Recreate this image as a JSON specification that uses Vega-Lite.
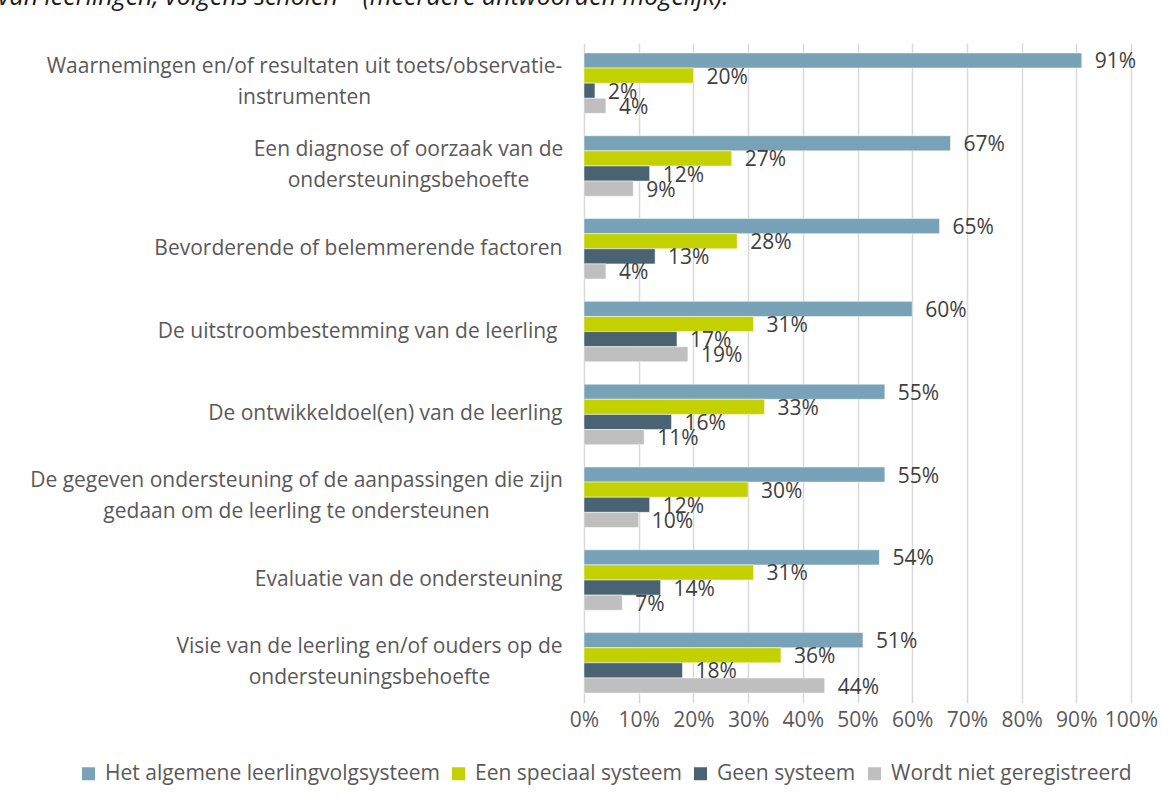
{
  "$schema": "https://vega.github.io/schema/vega-lite/v6.json",
  "width": 547,
  "height": 660,
  "autosize": {"type": "none"},
  "padding": {"left": 584, "top": 43, "right": 43, "bottom": 99},
  "background": "white",
  "title": {
    "text": "van leerlingen, volgens scholen⁽¹⁾ (meerdere antwoorden mogelijk).",
    "anchor": "start",
    "frame": "group",
    "dx": -586,
    "dy": 24,
    "offset": 37,
    "baseline": "alphabetic",
    "font": "Open Sans",
    "fontStyle": "italic",
    "fontWeight": "normal",
    "fontSize": 25,
    "color": "#1a1a1a"
  },
  "data": {
    "values": [
      {"categorie": "Waarnemingen en/of resultaten uit toets/observatie-instrumenten", "reeks": "Het algemene leerlingvolgsysteem", "waarde": 0.91},
      {"categorie": "Waarnemingen en/of resultaten uit toets/observatie-instrumenten", "reeks": "Een speciaal systeem", "waarde": 0.20},
      {"categorie": "Waarnemingen en/of resultaten uit toets/observatie-instrumenten", "reeks": "Geen systeem", "waarde": 0.02},
      {"categorie": "Waarnemingen en/of resultaten uit toets/observatie-instrumenten", "reeks": "Wordt niet geregistreerd", "waarde": 0.04},
      {"categorie": "Een diagnose of oorzaak van de ondersteuningsbehoefte", "reeks": "Het algemene leerlingvolgsysteem", "waarde": 0.67},
      {"categorie": "Een diagnose of oorzaak van de ondersteuningsbehoefte", "reeks": "Een speciaal systeem", "waarde": 0.27},
      {"categorie": "Een diagnose of oorzaak van de ondersteuningsbehoefte", "reeks": "Geen systeem", "waarde": 0.12},
      {"categorie": "Een diagnose of oorzaak van de ondersteuningsbehoefte", "reeks": "Wordt niet geregistreerd", "waarde": 0.09},
      {"categorie": "Bevorderende of belemmerende factoren", "reeks": "Het algemene leerlingvolgsysteem", "waarde": 0.65},
      {"categorie": "Bevorderende of belemmerende factoren", "reeks": "Een speciaal systeem", "waarde": 0.28},
      {"categorie": "Bevorderende of belemmerende factoren", "reeks": "Geen systeem", "waarde": 0.13},
      {"categorie": "Bevorderende of belemmerende factoren", "reeks": "Wordt niet geregistreerd", "waarde": 0.04},
      {"categorie": "De uitstroombestemming van de leerling", "reeks": "Het algemene leerlingvolgsysteem", "waarde": 0.60},
      {"categorie": "De uitstroombestemming van de leerling", "reeks": "Een speciaal systeem", "waarde": 0.31},
      {"categorie": "De uitstroombestemming van de leerling", "reeks": "Geen systeem", "waarde": 0.17},
      {"categorie": "De uitstroombestemming van de leerling", "reeks": "Wordt niet geregistreerd", "waarde": 0.19},
      {"categorie": "De ontwikkeldoel(en) van de leerling", "reeks": "Het algemene leerlingvolgsysteem", "waarde": 0.55},
      {"categorie": "De ontwikkeldoel(en) van de leerling", "reeks": "Een speciaal systeem", "waarde": 0.33},
      {"categorie": "De ontwikkeldoel(en) van de leerling", "reeks": "Geen systeem", "waarde": 0.16},
      {"categorie": "De ontwikkeldoel(en) van de leerling", "reeks": "Wordt niet geregistreerd", "waarde": 0.11},
      {"categorie": "De gegeven ondersteuning of de aanpassingen die zijn gedaan om de leerling te ondersteunen", "reeks": "Het algemene leerlingvolgsysteem", "waarde": 0.55},
      {"categorie": "De gegeven ondersteuning of de aanpassingen die zijn gedaan om de leerling te ondersteunen", "reeks": "Een speciaal systeem", "waarde": 0.30},
      {"categorie": "De gegeven ondersteuning of de aanpassingen die zijn gedaan om de leerling te ondersteunen", "reeks": "Geen systeem", "waarde": 0.12},
      {"categorie": "De gegeven ondersteuning of de aanpassingen die zijn gedaan om de leerling te ondersteunen", "reeks": "Wordt niet geregistreerd", "waarde": 0.10},
      {"categorie": "Evaluatie van de ondersteuning", "reeks": "Het algemene leerlingvolgsysteem", "waarde": 0.54},
      {"categorie": "Evaluatie van de ondersteuning", "reeks": "Een speciaal systeem", "waarde": 0.31},
      {"categorie": "Evaluatie van de ondersteuning", "reeks": "Geen systeem", "waarde": 0.14},
      {"categorie": "Evaluatie van de ondersteuning", "reeks": "Wordt niet geregistreerd", "waarde": 0.07},
      {"categorie": "Visie van de leerling en/of ouders op de ondersteuningsbehoefte", "reeks": "Het algemene leerlingvolgsysteem", "waarde": 0.51},
      {"categorie": "Visie van de leerling en/of ouders op de ondersteuningsbehoefte", "reeks": "Een speciaal systeem", "waarde": 0.36},
      {"categorie": "Visie van de leerling en/of ouders op de ondersteuningsbehoefte", "reeks": "Geen systeem", "waarde": 0.18},
      {"categorie": "Visie van de leerling en/of ouders op de ondersteuningsbehoefte", "reeks": "Wordt niet geregistreerd", "waarde": 0.44}
    ]
  },
  "encoding": {
    "y": {
      "field": "categorie",
      "type": "nominal",
      "sort": null,
      "scale": {"paddingInner": 0.27, "paddingOuter": 0.12},
      "axis": {
        "title": null,
        "domain": false,
        "ticks": false,
        "labelPadding": 22,
        "labelLimit": 600,
        "labelFont": "Open Sans",
        "labelFontSize": 21,
        "labelColor": "#595959",
        "labelLineHeight": 31,
        "labelExpr": "datum.label == 'Waarnemingen en/of resultaten uit toets/observatie-instrumenten' ? ['Waarnemingen en/of resultaten uit toets/observatie-', 'instrumenten'] : datum.label == 'Een diagnose of oorzaak van de ondersteuningsbehoefte' ? ['Een diagnose of oorzaak van de', 'ondersteuningsbehoefte'] : datum.label == 'De gegeven ondersteuning of de aanpassingen die zijn gedaan om de leerling te ondersteunen' ? ['De gegeven ondersteuning of de aanpassingen die zijn', 'gedaan om de leerling te ondersteunen'] : datum.label == 'Visie van de leerling en/of ouders op de ondersteuningsbehoefte' ? ['Visie van de leerling en/of ouders op de', 'ondersteuningsbehoefte'] : datum.label",
        "encoding": {
          "labels": {
            "align": {
              "condition": {"test": "indexof(['Waarnemingen en/of resultaten uit toets/observatie-instrumenten', 'Een diagnose of oorzaak van de ondersteuningsbehoefte', 'De gegeven ondersteuning of de aanpassingen die zijn gedaan om de leerling te ondersteunen', 'Visie van de leerling en/of ouders op de ondersteuningsbehoefte'], datum.value) >= 0", "value": "center"},
              "value": "right"
            },
            "dx": {
              "condition": [
                {"test": "datum.value == 'Waarnemingen en/of resultaten uit toets/observatie-instrumenten'", "value": -258},
                {"test": "datum.value == 'Een diagnose of oorzaak van de ondersteuningsbehoefte'", "value": -154},
                {"test": "datum.value == 'De gegeven ondersteuning of de aanpassingen die zijn gedaan om de leerling te ondersteunen'", "value": -266},
                {"test": "datum.value == 'Visie van de leerling en/of ouders op de ondersteuningsbehoefte'", "value": -193},
                {"test": "datum.value == 'De uitstroombestemming van de leerling'", "value": -5}
              ],
              "value": 0
            },
            "dy": {
              "condition": {"test": "indexof(['Waarnemingen en/of resultaten uit toets/observatie-instrumenten', 'Een diagnose of oorzaak van de ondersteuningsbehoefte', 'De gegeven ondersteuning of de aanpassingen die zijn gedaan om de leerling te ondersteunen', 'Visie van de leerling en/of ouders op de ondersteuningsbehoefte'], datum.value) >= 0", "value": -16},
              "value": 0
            }
          }
        }
      }
    },
    "yOffset": {
      "field": "reeks",
      "type": "nominal",
      "sort": ["Het algemene leerlingvolgsysteem", "Een speciaal systeem", "Geen systeem", "Wordt niet geregistreerd"],
      "scale": {"paddingInner": 0, "paddingOuter": 0}
    },
    "x": {
      "field": "waarde",
      "type": "quantitative",
      "scale": {"domain": [0, 1], "nice": false},
      "axis": {
        "title": null,
        "format": ".0%",
        "values": [0, 0.1, 0.2, 0.3, 0.4, 0.5, 0.6, 0.7, 0.8, 0.9, 1],
        "domain": false,
        "ticks": false,
        "grid": true,
        "gridColor": "#D9D9D9",
        "gridWidth": 1.5,
        "labelPadding": 6,
        "labelFont": "Open Sans",
        "labelFontSize": 21,
        "labelColor": "#595959",
        "labelFlush": false
      }
    }
  },
  "layer": [
    {
      "mark": {"type": "bar", "stroke": "white", "strokeWidth": 0.5},
      "encoding": {
        "color": {
          "field": "reeks",
          "type": "nominal",
          "sort": ["Het algemene leerlingvolgsysteem", "Een speciaal systeem", "Geen systeem", "Wordt niet geregistreerd"],
          "scale": {
            "domain": ["Het algemene leerlingvolgsysteem", "Een speciaal systeem", "Geen systeem", "Wordt niet geregistreerd"],
            "range": ["#78A2B7", "#C3D100", "#4A6372", "#BFBFBF"]
          },
          "legend": {
            "title": null,
            "orient": "none",
            "direction": "horizontal",
            "legendX": -506,
            "legendY": 720,
            "columns": 4,
            "columnPadding": 8,
            "symbolType": "square",
            "symbolSize": 169,
            "symbolStrokeWidth": 0,
            "labelOffset": 6,
            "labelFont": "Open Sans",
            "labelFontSize": 21,
            "labelColor": "#595959",
            "labelLimit": 500
          }
        }
      }
    },
    {
      "mark": {
        "type": "text",
        "align": "left",
        "baseline": "middle",
        "dx": 13,
        "dy": 2,
        "font": "Open Sans",
        "fontSize": 21,
        "color": "#404040"
      },
      "encoding": {
        "text": {"field": "waarde", "type": "quantitative", "format": ".0%"}
      }
    }
  ],
  "config": {
    "view": {"stroke": null},
    "axis": {"gridOpacity": 1}
  }
}
